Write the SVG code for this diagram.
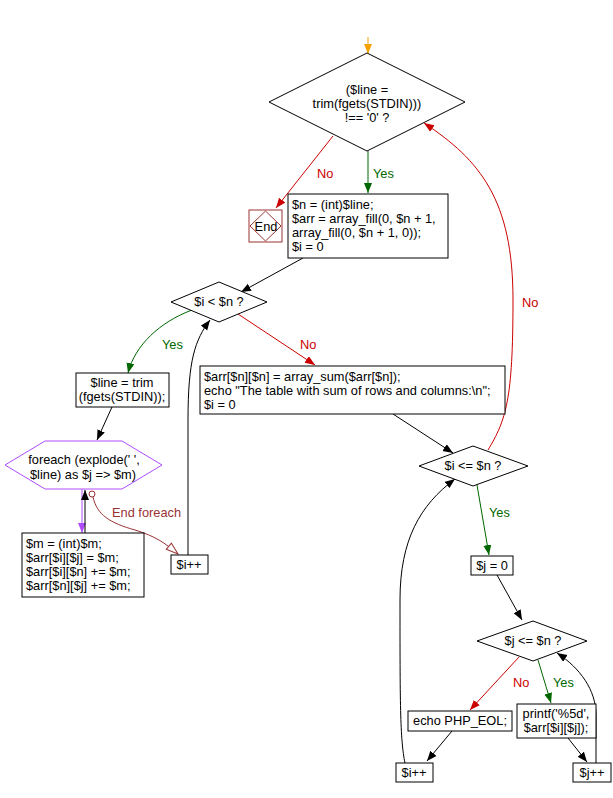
<svg xmlns="http://www.w3.org/2000/svg" width="613" height="798" viewBox="0 0 613 798">
<style>
text{font-family:"Liberation Sans",Arial,sans-serif;font-size:12.8px;fill:#000}
.box{fill:#fff;stroke:#000;stroke-width:1}
.c{fill:none;stroke-width:1}
.k{stroke:#000}.r{stroke:#cc0000}.g{stroke:#006600}
.m{text-anchor:middle}
.ly{fill:#006600}.ln{fill:#cc0000}
</style>
<defs>
<marker id="ak" markerUnits="userSpaceOnUse" markerWidth="11" markerHeight="9" refX="10" refY="4" orient="auto"><path d="M0,0 L10,4 L0,8 z" fill="#000"/></marker>
<marker id="ar" markerUnits="userSpaceOnUse" markerWidth="11" markerHeight="9" refX="10" refY="4" orient="auto"><path d="M0,0 L10,4 L0,8 z" fill="#cc0000"/></marker>
<marker id="ag" markerUnits="userSpaceOnUse" markerWidth="11" markerHeight="9" refX="10" refY="4" orient="auto"><path d="M0,0 L10,4 L0,8 z" fill="#006600"/></marker>
<marker id="ao" markerUnits="userSpaceOnUse" markerWidth="11" markerHeight="9" refX="10" refY="4" orient="auto"><path d="M0,0 L10,4 L0,8 z" fill="#f5a300"/></marker>
<marker id="ap" markerUnits="userSpaceOnUse" markerWidth="11" markerHeight="9" refX="10" refY="4" orient="auto"><path d="M0,0 L10,4 L0,8 z" fill="#b04cff"/></marker>
<marker id="aw" markerUnits="userSpaceOnUse" markerWidth="15" markerHeight="11" refX="13" refY="5" orient="auto"><path d="M1,1 L13,5 L1,9 z" fill="#fff" stroke="#993333"/></marker>
</defs>

<g id="connectors">
<path class="c" stroke="#f5a300" d="M368,37 L368,54" marker-end="url(#ao)"/>
<path class="c g" d="M368,151 L368,193" marker-end="url(#ag)"/>
<path class="c r" d="M333,136 L276,208" marker-end="url(#ar)"/>
<path class="c k" d="M303,258 L241,292" marker-end="url(#ak)"/>
<path class="c g" d="M192,310 C160,322 135,345 128,373" marker-end="url(#ag)"/>
<path class="c r" d="M238,314 L315,365" marker-end="url(#ar)"/>
<path class="c k" d="M112,407 L97,440" marker-end="url(#ak)"/>
<path class="c" stroke="#b04cff" d="M82,489 L82,533" marker-end="url(#ap)"/>
<path class="c k" d="M85,533 L85,490" marker-end="url(#ak)"/>
<circle cx="92" cy="494" r="3" fill="#fff" stroke="#993333"/>
<path class="c" stroke="#993333" d="M93,497 C97,515 110,523 135,530 C155,536 165,543 178,554" marker-end="url(#aw)"/>
<path class="c k" d="M188,555 L188,420 C188,360 195,340 210,320" marker-end="url(#ak)"/>
<path class="c k" d="M393,414 L453,453" marker-end="url(#ak)"/>
<path class="c r" d="M488,450 C506,420 513,400 513,300 C513,200 480,160 424,123" marker-end="url(#ar)"/>
<path class="c g" d="M477,485 L489,555" marker-end="url(#ag)"/>
<path class="c k" d="M497,575 L522,620" marker-end="url(#ak)"/>
<path class="c r" d="M519,657 L470,710" marker-end="url(#ar)"/>
<path class="c g" d="M538,660 L551,703" marker-end="url(#ag)"/>
<path class="c k" d="M452,731 L427,761" marker-end="url(#ak)"/>
<path class="c k" d="M568,738 L587,762" marker-end="url(#ak)"/>
<path class="c k" d="M596,763 L596,715 C596,690 580,668 557,653" marker-end="url(#ak)"/>
<path class="c k" d="M405,763 C400,740 400,700 400,600 C400,540 420,505 455,479" marker-end="url(#ak)"/>
<text x="373" y="178" class="ly">Yes</text>
<text x="317" y="178" class="ln">No</text>
<text x="162" y="349" class="ly">Yes</text>
<text x="300" y="349" class="ln">No</text>
<text x="112" y="517" style="fill:#993333">End foreach</text>
<text x="522" y="307" class="ln">No</text>
<text x="489" y="517" class="ly">Yes</text>
<text x="513" y="687" class="ln">No</text>
<text x="553" y="687" class="ly">Yes</text>
</g>

<g id="cond1">
<polygon class="box" points="367,53 465,102 367,151 269,102"/>
<text x="367" y="94" class="m">($line =</text>
<text x="367" y="108" class="m">trim(fgets(STDIN)))</text>
<text x="367" y="122" class="m">!== '0' ?</text>
</g>

<g id="end">
<rect x="249" y="210" width="33" height="32" fill="#fff" stroke="#993333"/>
<polygon points="265.5,211 281,226 265.5,241 250,226" fill="none" stroke="#993333"/>
<text x="266" y="231" class="m">End</text>
</g>

<g id="init">
<rect class="box" x="288" y="194" width="160" height="64"/>
<text x="292" y="209">$n = (int)$line;</text>
<text x="292" y="223">$arr = array_fill(0, $n + 1,</text>
<text x="292" y="237">array_fill(0, $n + 1, 0));</text>
<text x="292" y="251">$i = 0</text>
</g>

<g id="cond2">
<polygon class="box" points="219,282 267,302 219,322 171,302"/>
<text x="219" y="306" class="m">$i &lt; $n ?</text>
</g>

<g id="readline">
<rect class="box" x="76" y="373" width="93" height="34"/>
<text x="122" y="387" class="m">$line = trim</text>
<text x="122" y="401" class="m">(fgets(STDIN));</text>
</g>

<g id="foreach">
<polygon points="5,465 45,441 122,441 162,465 122,489 45,489" fill="#fff" stroke="#b04cff"/>
<text x="84" y="464" class="m">foreach (explode(' ',</text>
<text x="83" y="479" class="m">$line) as $j =&gt; $m)</text>
</g>

<g id="body">
<rect class="box" x="22" y="533" width="122" height="64"/>
<text x="26" y="548">$m = (int)$m;</text>
<text x="26" y="562">$arr[$i][$j] = $m;</text>
<text x="26" y="576">$arr[$i][$n] += $m;</text>
<text x="26" y="590">$arr[$n][$j] += $m;</text>
</g>

<g id="inc1">
<rect class="box" x="171" y="555" width="37" height="19"/>
<text x="189" y="569" class="m">$i++</text>
</g>

<g id="sum">
<rect class="box" x="200" y="366" width="305" height="48"/>
<text x="204" y="381">$arr[$n][$n] = array_sum($arr[$n]);</text>
<text x="204" y="395">echo "The table with sum of rows and columns:\n";</text>
<text x="204" y="409">$i = 0</text>
</g>

<g id="cond3">
<polygon class="box" points="473,446 528,466 473,486 419,466"/>
<text x="473" y="470" class="m">$i &lt;= $n ?</text>
</g>

<g id="j0">
<rect class="box" x="471" y="556" width="42" height="19"/>
<text x="492" y="570" class="m">$j = 0</text>
</g>

<g id="cond4">
<polygon class="box" points="533,621 587,641 533,661 477,641"/>
<text x="533" y="645" class="m">$j &lt;= $n ?</text>
</g>

<g id="echo">
<rect class="box" x="408" y="711" width="104" height="20"/>
<text x="460" y="725" class="m">echo PHP_EOL;</text>
</g>

<g id="printf">
<rect class="box" x="517" y="704" width="79" height="34"/>
<text x="556" y="718" class="m">printf('%5d',</text>
<text x="556" y="732" class="m">$arr[$i][$j]);</text>
</g>

<g id="inc2">
<rect class="box" x="396" y="763" width="37" height="19"/>
<text x="414" y="777" class="m">$i++</text>
</g>

<g id="inc3">
<rect class="box" x="573" y="763" width="38" height="19"/>
<text x="592" y="777" class="m">$j++</text>
</g>
</svg>
